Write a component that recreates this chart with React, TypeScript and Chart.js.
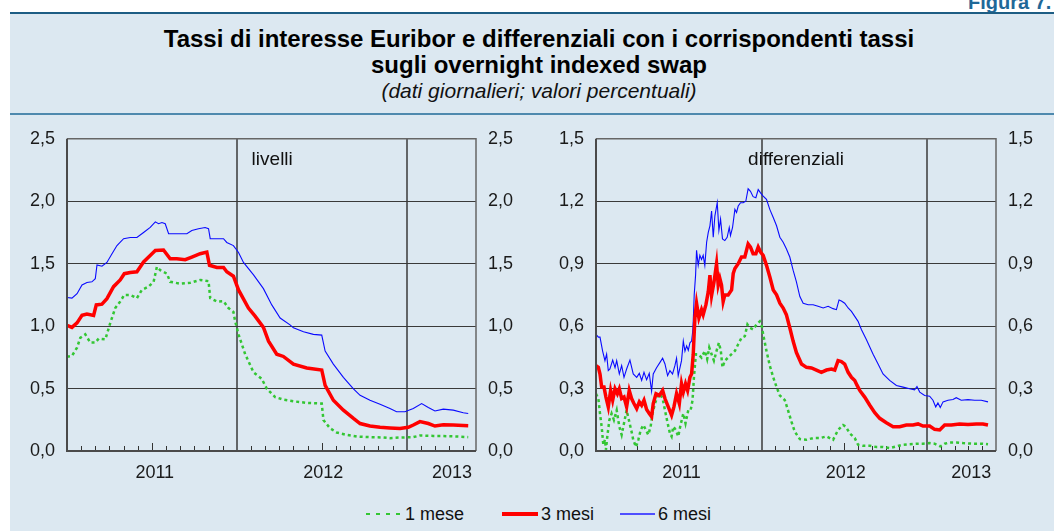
import React, { useEffect, useRef } from "react";
import { Chart, registerables } from "chart.js";

Chart.register(...registerables);

const FONT = '"Liberation Sans", Arial, Helvetica, sans-serif';

// x values are months elapsed since 1 January 2011
const yearLabels = ["2011", "2012", "2013"];
const yearLabelPos = [6.2, 18.1, 27.2];
const yearLines = [12, 24];
const levelTicks = [0, 0.5, 1, 1.5, 2, 2.5];
const diffTicks = [0, 0.3, 0.6, 0.9, 1.2, 1.5];
const seriesNames = ["1 mese", "3 mesi", "6 mesi"];

// ---- Livelli ----
const lvl1M = [0, 0.35, 0.71, 0.94, 1.29, 1.65, 2.0, 2.24, 2.71, 3.06, 3.41, 3.76, 4.05, 4.47, 4.94, 5.29, 5.76, 6.12, 6.35, 6.59, 7.06, 7.29, 8.0, 8.71, 9.41, 10.0, 10.12, 10.59, 11.06, 11.41, 11.76, 11.88, 12.12, 12.59, 13.18, 13.76, 14.12, 14.71, 15.29, 16.0, 16.94, 18.0, 18.12, 18.59, 19.06, 19.76, 20.47, 21.41, 22.35, 22.82, 23.53, 24.47, 24.94, 25.88, 26.82, 27.53, 28.35];
const lvl1V = [0.754, 0.762, 0.828, 0.907, 0.934, 0.868, 0.868, 0.9, 0.894, 1.026, 1.145, 1.197, 1.25, 1.25, 1.224, 1.29, 1.316, 1.355, 1.474, 1.448, 1.42, 1.355, 1.34, 1.347, 1.37, 1.36, 1.224, 1.197, 1.2, 1.145, 1.113, 1.04, 0.934, 0.775, 0.63, 0.578, 0.498, 0.432, 0.411, 0.398, 0.385, 0.38, 0.248, 0.182, 0.148, 0.129, 0.116, 0.111, 0.108, 0.103, 0.108, 0.111, 0.124, 0.121, 0.119, 0.116, 0.111];

const lvl3M = [0, 0.35, 0.71, 1.06, 1.41, 1.88, 2.07, 2.47, 2.82, 3.29, 3.76, 4.05, 4.47, 4.94, 5.41, 5.88, 6.24, 6.82, 7.29, 7.76, 8.35, 8.82, 9.41, 9.88, 10.07, 10.59, 11.06, 11.29, 11.76, 12.12, 12.82, 13.29, 13.88, 14.24, 14.82, 15.29, 16.0, 16.94, 18.0, 18.24, 18.82, 19.53, 20.24, 20.71, 21.41, 22.12, 22.82, 23.53, 24.12, 24.47, 24.94, 25.53, 26.0, 26.59, 27.29, 28.35];
const lvl3V = [1.007, 0.99, 1.026, 1.086, 1.097, 1.086, 1.17, 1.176, 1.22, 1.316, 1.37, 1.42, 1.43, 1.435, 1.514, 1.566, 1.606, 1.61, 1.54, 1.54, 1.532, 1.553, 1.58, 1.593, 1.487, 1.47, 1.47, 1.435, 1.4, 1.29, 1.145, 1.08, 0.99, 0.88, 0.775, 0.757, 0.696, 0.665, 0.649, 0.525, 0.406, 0.327, 0.261, 0.22, 0.2, 0.19, 0.185, 0.18, 0.19, 0.208, 0.235, 0.22, 0.2, 0.21, 0.208, 0.203];

const lvl6M = [0, 0.35, 0.71, 1.06, 1.41, 1.76, 2.0, 2.12, 2.47, 2.82, 3.18, 3.53, 4.0, 4.47, 4.94, 5.41, 5.88, 6.24, 6.47, 6.71, 6.94, 7.18, 7.53, 8.0, 8.47, 8.82, 9.29, 9.76, 10.0, 10.12, 10.59, 11.06, 11.29, 11.76, 12.12, 12.47, 13.18, 13.88, 14.47, 15.06, 15.76, 16.0, 16.71, 17.41, 18.0, 18.24, 18.82, 19.53, 20.24, 20.71, 21.41, 22.12, 22.82, 23.29, 23.88, 24.47, 25.06, 25.53, 26.0, 26.59, 27.29, 28.0, 28.35];
const lvl6V = [1.229, 1.224, 1.26, 1.33, 1.35, 1.355, 1.38, 1.49, 1.48, 1.51, 1.58, 1.645, 1.7, 1.71, 1.71, 1.75, 1.79, 1.835, 1.82, 1.83, 1.82, 1.74, 1.74, 1.74, 1.74, 1.765, 1.78, 1.79, 1.78, 1.7, 1.7, 1.7, 1.67, 1.645, 1.59, 1.51, 1.41, 1.3, 1.17, 1.065, 1.01, 0.986, 0.955, 0.934, 0.928, 0.8, 0.696, 0.59, 0.498, 0.446, 0.406, 0.374, 0.34, 0.314, 0.314, 0.34, 0.38, 0.348, 0.32, 0.335, 0.327, 0.306, 0.3];

// ---- Differenziali ----
const dif1M = [0, 0.17, 0.29, 0.41, 0.53, 0.65, 0.72, 0.82, 0.97, 1.13, 1.3, 1.5, 1.69, 1.86, 2.03, 2.22, 2.41, 2.58, 2.7, 2.9, 3.07, 3.24, 3.43, 3.62, 3.79, 3.96, 4.1, 4.27, 4.44, 4.64, 4.83, 5.0, 5.17, 5.36, 5.48, 5.6, 5.79, 5.96, 6.13, 6.33, 6.49, 6.69, 6.86, 7.0, 7.1, 7.24, 7.41, 7.65, 7.89, 8.06, 8.21, 8.38, 8.55, 8.74, 8.91, 9.05, 9.17, 9.34, 9.58, 9.83, 10.07, 10.31, 10.55, 10.79, 10.98, 11.15, 11.39, 11.64, 11.88, 12.0, 12.12, 12.36, 12.6, 12.85, 13.09, 13.33, 13.69, 13.92, 14.17, 14.41, 14.78, 15.26, 15.74, 16.22, 16.71, 17.19, 17.55, 17.91, 18.11, 18.4, 18.76, 19.0, 19.36, 19.85, 20.33, 20.81, 21.29, 21.78, 22.26, 22.74, 23.22, 23.71, 24.19, 24.55, 24.96, 25.28, 25.64, 26.12, 26.61, 27.33, 28.05, 28.42];
const dif1V = [0.275, 0.252, 0.18, 0.117, 0.03, 0.054, 0.006, 0.07, 0.149, 0.18, 0.149, 0.196, 0.117, 0.078, 0.133, 0.196, 0.141, 0.093, 0.054, 0.019, 0.054, 0.101, 0.125, 0.101, 0.078, 0.117, 0.18, 0.228, 0.259, 0.275, 0.252, 0.196, 0.141, 0.085, 0.07, 0.117, 0.101, 0.07, 0.125, 0.18, 0.133, 0.196, 0.196, 0.244, 0.354, 0.465, 0.465, 0.449, 0.481, 0.441, 0.497, 0.465, 0.434, 0.481, 0.52, 0.481, 0.402, 0.434, 0.449, 0.465, 0.481, 0.513, 0.544, 0.552, 0.608, 0.592, 0.584, 0.608, 0.623, 0.608, 0.56, 0.481, 0.41, 0.354, 0.307, 0.267, 0.244, 0.196, 0.141, 0.093, 0.057, 0.054, 0.062, 0.062, 0.07, 0.054, 0.101, 0.125, 0.117, 0.085, 0.062, 0.03, 0.025, 0.025, 0.019, 0.019, 0.014, 0.022, 0.03, 0.033, 0.035, 0.035, 0.038, 0.035, 0.022, 0.035, 0.041, 0.041, 0.038, 0.035, 0.035, 0.032];

const dif3M = [0, 0.17, 0.29, 0.41, 0.58, 0.72, 0.89, 1.06, 1.21, 1.38, 1.55, 1.69, 1.86, 2.03, 2.22, 2.41, 2.58, 2.75, 2.95, 3.14, 3.31, 3.48, 3.67, 3.86, 4.03, 4.15, 4.35, 4.59, 4.83, 5.0, 5.24, 5.48, 5.65, 5.84, 6.04, 6.2, 6.33, 6.49, 6.64, 6.81, 6.93, 7.05, 7.17, 7.29, 7.46, 7.65, 7.77, 7.97, 8.14, 8.26, 8.38, 8.55, 8.74, 8.86, 8.98, 9.1, 9.22, 9.34, 9.58, 9.83, 9.95, 10.07, 10.31, 10.55, 10.79, 11.03, 11.2, 11.39, 11.59, 11.76, 11.93, 12.12, 12.36, 12.6, 12.85, 13.09, 13.33, 13.57, 13.8, 14.05, 14.29, 14.53, 14.9, 15.26, 15.62, 15.98, 16.34, 16.71, 17.07, 17.31, 17.55, 17.79, 18.03, 18.28, 18.52, 18.76, 18.93, 19.12, 19.48, 19.85, 20.21, 20.57, 21.05, 21.54, 22.02, 22.5, 22.98, 23.35, 23.71, 24.19, 24.55, 24.92, 25.28, 25.76, 26.36, 26.97, 27.57, 28.05, 28.42];
const dif3V = [0.41, 0.402, 0.37, 0.307, 0.307, 0.259, 0.212, 0.291, 0.244, 0.299, 0.275, 0.299, 0.252, 0.259, 0.212, 0.291, 0.252, 0.228, 0.204, 0.236, 0.22, 0.244, 0.199, 0.18, 0.165, 0.228, 0.275, 0.267, 0.291, 0.252, 0.212, 0.172, 0.212, 0.275, 0.228, 0.323, 0.283, 0.323, 0.291, 0.354, 0.37, 0.465, 0.639, 0.71, 0.639, 0.679, 0.655, 0.703, 0.766, 0.845, 0.747, 0.81, 0.9, 0.797, 0.829, 0.797, 0.718, 0.75, 0.75, 0.774, 0.853, 0.877, 0.9, 0.932, 0.932, 0.995, 0.98, 0.948, 0.948, 0.98, 0.956, 0.94, 0.892, 0.837, 0.774, 0.75, 0.71, 0.687, 0.655, 0.592, 0.528, 0.473, 0.418, 0.402, 0.399, 0.389, 0.378, 0.389, 0.394, 0.389, 0.434, 0.43, 0.418, 0.378, 0.354, 0.339, 0.315, 0.291, 0.259, 0.22, 0.184, 0.157, 0.136, 0.117, 0.117, 0.125, 0.125, 0.13, 0.12, 0.12, 0.104, 0.101, 0.125, 0.125, 0.13, 0.127, 0.13, 0.13, 0.125];

const dif6M = [0, 0.17, 0.29, 0.48, 0.65, 0.77, 0.89, 1.01, 1.21, 1.38, 1.5, 1.69, 1.86, 2.03, 2.22, 2.46, 2.7, 2.95, 3.14, 3.31, 3.48, 3.67, 3.86, 4.03, 4.15, 4.39, 4.64, 4.83, 5.0, 5.19, 5.36, 5.55, 5.72, 5.84, 5.96, 6.2, 6.33, 6.45, 6.57, 6.69, 6.81, 6.93, 7.0, 7.05, 7.12, 7.22, 7.29, 7.41, 7.53, 7.65, 7.77, 7.89, 8.02, 8.14, 8.26, 8.38, 8.5, 8.62, 8.79, 8.91, 9.03, 9.17, 9.34, 9.51, 9.66, 9.75, 9.9, 10.07, 10.19, 10.31, 10.48, 10.67, 10.86, 11.03, 11.2, 11.39, 11.59, 11.76, 11.93, 12.12, 12.36, 12.6, 12.85, 13.09, 13.33, 13.57, 13.8, 14.05, 14.29, 14.53, 14.78, 15.02, 15.38, 15.74, 16.1, 16.47, 16.83, 17.19, 17.43, 17.62, 17.79, 18.03, 18.28, 18.52, 18.76, 19.0, 19.24, 19.6, 20.09, 20.45, 20.81, 21.29, 21.78, 22.26, 22.74, 23.1, 23.27, 23.47, 23.83, 24.19, 24.43, 24.63, 24.79, 24.96, 25.16, 25.52, 25.88, 26.12, 26.48, 26.97, 27.45, 27.93, 28.42];
const dif6V = [0.56, 0.547, 0.547, 0.48, 0.434, 0.465, 0.386, 0.394, 0.437, 0.4, 0.434, 0.37, 0.41, 0.354, 0.394, 0.437, 0.37, 0.354, 0.373, 0.339, 0.378, 0.342, 0.373, 0.288, 0.37, 0.4, 0.426, 0.446, 0.418, 0.362, 0.386, 0.37, 0.41, 0.446, 0.362, 0.434, 0.528, 0.48, 0.505, 0.484, 0.52, 0.528, 0.568, 0.623, 0.75, 0.845, 0.964, 0.892, 0.94, 0.92, 0.94, 0.892, 1.003, 1.05, 1.082, 1.153, 1.027, 1.13, 1.193, 1.06, 1.114, 1.019, 1.011, 1.027, 1.074, 1.035, 1.074, 1.161, 1.146, 1.177, 1.193, 1.193, 1.2, 1.26, 1.248, 1.222, 1.217, 1.256, 1.24, 1.225, 1.209, 1.161, 1.122, 1.082, 1.027, 1.003, 0.972, 0.932, 0.869, 0.813, 0.742, 0.71, 0.703, 0.703, 0.695, 0.687, 0.695, 0.684, 0.679, 0.726, 0.721, 0.71, 0.687, 0.671, 0.647, 0.623, 0.584, 0.536, 0.465, 0.418, 0.37, 0.339, 0.315, 0.307, 0.299, 0.294, 0.31, 0.283, 0.267, 0.263, 0.244, 0.212, 0.231, 0.209, 0.236, 0.244, 0.247, 0.256, 0.244, 0.247, 0.244, 0.244, 0.236];

const GREEN = "#33c633";
const RED = "#ff0000";
const BLUE = "#0a0aff";

const pts = (xs: number[], ys: number[]) => xs.map((x, i) => ({ x, y: ys[i] }));
const fmt = (v: number) => v.toFixed(1).replace(".", ",");

const panelPlugin = {
  id: "panelDeco",
  beforeDatasetsDraw(chart: any, _args: any, opts: any) {
    const { ctx, chartArea: a } = chart;
    const xs = chart.scales.x;
    ctx.save();
    ctx.strokeStyle = "#333";
    ctx.lineWidth = 1;
    for (let m = 1; m < xs.max; m++) {
      if (m % 12 === 0) continue;
      const px = Math.round(xs.getPixelForValue(m)) + 0.5;
      const len = m % 12 === 6 ? 8 : 5;
      ctx.beginPath();
      ctx.moveTo(px, a.bottom);
      ctx.lineTo(px, a.bottom - len);
      ctx.stroke();
    }
    ctx.strokeStyle = "#3a3a3a";
    ctx.lineWidth = 1.5;
    for (const v of yearLines) {
      const px = Math.round(xs.getPixelForValue(v));
      ctx.beginPath();
      ctx.moveTo(px, a.top);
      ctx.lineTo(px, a.bottom);
      ctx.stroke();
    }
    ctx.restore();
  },
  afterDatasetsDraw(chart: any, _args: any, opts: any) {
    const { ctx, chartArea: a } = chart;
    const xs = chart.scales.x;
    ctx.save();
    ctx.strokeStyle = "#666";
    ctx.lineWidth = 1.5;
    ctx.beginPath();
    ctx.moveTo(a.left, a.top);
    ctx.lineTo(a.right, a.top);
    ctx.lineTo(a.right, a.bottom);
    ctx.stroke();
    ctx.strokeStyle = "#4a4a4a";
    ctx.lineWidth = 2;
    ctx.beginPath();
    ctx.moveTo(a.left, a.top);
    ctx.lineTo(a.left, a.bottom);
    ctx.lineTo(a.right, a.bottom);
    ctx.stroke();
    ctx.fillStyle = "#111";
    ctx.font = `19px ${FONT}`;
    ctx.textAlign = "center";
    ctx.textBaseline = "middle";
    ctx.fillText(opts.label, xs.getPixelForValue(opts.labelAt), a.top + 21);
    ctx.restore();
  },
};

const yAxis = (position: string, ticksArr: number[], showGrid: boolean) => ({
  type: "linear",
  position,
  min: 0,
  max: ticksArr[ticksArr.length - 1],
  afterBuildTicks: (s: any) => {
    s.ticks = ticksArr.map((v) => ({ value: v }));
  },
  afterFit: (s: any) => {
    s.width = 50;
  },
  ticks: {
    callback: (v: any) => fmt(Number(v)),
    font: { family: FONT, size: 18 },
    color: "#1a1a1a",
    padding: 12,
  },
  grid: { display: showGrid, drawTicks: false, color: "#3a3a3a", lineWidth: 1 },
  border: { display: false },
});

function makeConfig(
  label: string,
  ticksArr: number[],
  padL: number,
  padR: number,
  maxX: number,
  s1: any[],
  s3: any[],
  s6: any[]
): any {
  return {
    type: "line",
    data: {
      datasets: [
        { label: seriesNames[1], data: s3, borderColor: RED, borderWidth: 3.5, pointRadius: 0, tension: 0, order: 1 },
        { label: seriesNames[2], data: s6, borderColor: BLUE, borderWidth: 1.1, pointRadius: 0, tension: 0, order: 2 },
        { label: seriesNames[0], data: s1, borderColor: GREEN, borderWidth: 2.5, borderDash: [3, 3], pointRadius: 0, tension: 0, order: 3 },
      ],
    },
    options: {
      responsive: false,
      maintainAspectRatio: false,
      animation: false,
      events: [],
      layout: { padding: { left: padL, right: padR, top: 19, bottom: 14 } },
      plugins: {
        legend: { display: false },
        tooltip: { enabled: false },
        panelDeco: { label, labelAt: 14.5 },
      },
      scales: {
        x: {
          type: "linear",
          min: 0,
          max: maxX,
          afterBuildTicks: (s: any) => {
            s.ticks = yearLabelPos.map((v) => ({ value: v }));
          },
          afterFit: (s: any) => {
            s.height = 35;
          },
          ticks: {
            autoSkip: false,
            maxRotation: 0,
            callback: (_v: any, i: number) => yearLabels[i],
            font: { family: FONT, size: 18 },
            color: "#1a1a1a",
            padding: 11,
          },
          grid: { display: false, drawTicks: false },
          border: { display: false },
        },
        y: yAxis("left", ticksArr, true),
        y2: yAxis("right", ticksArr, false),
      },
    },
    plugins: [panelPlugin],
  };
}

function Panel({ left, width, config }: { left: number; width: number; config: () => any }) {
  const ref = useRef<HTMLCanvasElement>(null);
  useEffect(() => {
    const c = new Chart(ref.current as HTMLCanvasElement, config());
    return () => c.destroy();
  }, []);
  return (
    <canvas
      ref={ref}
      width={width}
      height={384}
      style={{ position: "absolute", left, top: 116, width, height: 384 }}
    />
  );
}

const legendText: React.CSSProperties = {
  position: "absolute",
  top: 504,
  fontFamily: FONT,
  fontSize: 18,
  lineHeight: "20px",
  color: "#111",
  whiteSpace: "nowrap",
};

export default function App() {
  return (
    <div
      style={{
        position: "absolute",
        left: 0,
        top: 0,
        width: 1054,
        height: 531,
        overflow: "hidden",
        background: "#fff",
        fontFamily: FONT,
      }}
    >
      <div
        style={{
          position: "absolute",
          left: 968,
          top: -8,
          fontSize: 20,
          lineHeight: "20px",
          fontWeight: "bold",
          color: "#1f6898",
          whiteSpace: "nowrap",
        }}
      >
        Figura 7.
      </div>
      <div
        style={{
          position: "absolute",
          left: 10,
          top: 12,
          width: 1044,
          height: 519,
          background: "#dce8f1",
          borderTop: "2px solid #1d5d84",
          boxSizing: "border-box",
        }}
      />
      <div style={{ position: "absolute", left: 10, top: 113, width: 1044, height: 2, background: "#4e89ae" }} />
      <div
        style={{
          position: "absolute",
          left: 89,
          width: 900,
          top: 26,
          textAlign: "center",
          fontWeight: "bold",
          fontSize: 24,
          lineHeight: "26px",
          color: "#000",
        }}
      >
        Tassi di interesse Euribor e differenziali con i corrispondenti tassi
        <br />
        sugli overnight indexed swap
      </div>
      <div
        style={{
          position: "absolute",
          left: 89,
          width: 900,
          top: 79,
          textAlign: "center",
          fontStyle: "italic",
          fontSize: 21,
          lineHeight: "24px",
          color: "#111",
        }}
      >
        (dati giornalieri; valori percentuali)
      </div>

      <Panel
        left={10}
        width={520}
        config={() => makeConfig("livelli", levelTicks, 7, 4, 28.9, pts(lvl1M, lvl1V), pts(lvl3M, lvl3V), pts(lvl6M, lvl6V))}
      />
      <Panel
        left={530}
        width={524}
        config={() => makeConfig("differenziali", diffTicks, 16, 8, 29, pts(dif1M, dif1V), pts(dif3M, dif3V), pts(dif6M, dif6V))}
      />

      <div
        style={{
          position: "absolute",
          left: 366,
          top: 513,
          width: 37,
          height: 2,
          background: `repeating-linear-gradient(to right, ${GREEN} 0 4px, transparent 4px 10px)`,
        }}
      />
      <div style={{ ...legendText, left: 405 }}>{seriesNames[0]}</div>
      <div style={{ position: "absolute", left: 502, top: 512, width: 36, height: 4, background: RED }} />
      <div style={{ ...legendText, left: 541 }}>{seriesNames[1]}</div>
      <div style={{ position: "absolute", left: 620, top: 513, width: 35, height: 2, background: "#4f4fff" }} />
      <div style={{ ...legendText, left: 658 }}>{seriesNames[2]}</div>
    </div>
  );
}
